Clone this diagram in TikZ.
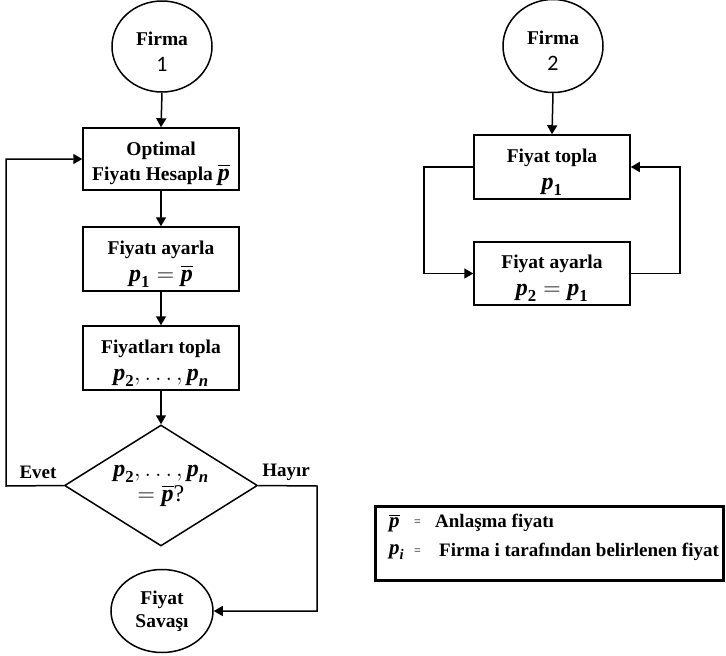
\RequirePackage{fix-cm}
\documentclass[tikz,border=0pt]{standalone}
\usepackage{amsmath}
\usepackage{fontspec}
\setmainfont{Liberation Serif}
\newfontfamily\carlito{Carlito}
\usetikzlibrary{shapes.geometric,arrows.meta}
\tikzset{
  base/.style={draw=black, line width=1.5pt, align=center, inner sep=0pt,
    font=\fontsize{19.5}{27}\selectfont\bfseries},
  procbox/.style={base, rectangle, minimum width=156, minimum height=63},
  oval/.style={base, ellipse},
  decision/.style={base, diamond, minimum width=193, minimum height=121, aspect=1.6},
  arr/.style={line width=1.5pt, -{Triangle[length=9,width=10]}},
  lbl/.style={font=\fontsize{19}{22}\selectfont\bfseries, inner sep=0pt},
  mth/.style={font=\fontsize{21}{24}\selectfont, inner sep=0pt}
}
\newcommand{\pp}{\mbox{\bfseries\itshape p}}
\newcommand{\pb}{\overline{\pp}}
\newcommand{\ps}[1]{\pp_{\text{\bfseries #1}}}
\newcommand{\mathsz}{\fontsize{24}{26}\selectfont}
\newcommand{\dig}{\fontsize{22}{24}\selectfont\carlito\mdseries}
\newcommand{\topgap}{\rule{0pt}{1.2em}}
\begin{document}
\begin{tikzpicture}[x=1pt,y=-1pt]
\useasboundingbox (0,0) rectangle (726,656);
% left chart
\node[oval, minimum width=100, minimum height=91] (f1) at (162,46.5) {\topgap Firma\\[-1pt] {\dig 1}};
\node[procbox, minimum height=62] (b1) at (161,159) {\topgap Optimal\\[-2pt] Fiyatı Hesapla {\mathsz$\pb$}};
\node[procbox, minimum height=64] (b2) at (161,259) {\topgap Fiyatı ayarla\\ {\mathsz$\ps{1}=\pb$}};
\node[procbox, minimum height=64] (b3) at (161,358) {\topgap Fiyatları topla\\ {\mathsz$\ps{2},\ldots,\ps{\itshape n}$}};
\node[decision] (d) at (161,485.5) {\rule{0pt}{0.5em}{\mathsz$\ps{2},\ldots,\ps{\itshape n}$}\\[-2pt] {\mathsz$=\pb$\mdseries ?}};
\node[oval, minimum width=102, minimum height=83] (f3) at (162,611) {Fiyat\\[-4pt] Savaşı};
\coordinate (eL) at (6,486);
\coordinate (hR) at (317,486);
\draw[arr] (f1.south) -- (b1.north);
\draw[arr] (b1.south) -- (b2.north);
\draw[arr] (b2.south) -- (b3.north);
\draw[arr] (b3.south) -- (d.north);
\draw[arr] (d.west) -- (eL) |- (b1.west);
\draw[arr] (d.east) -- (hR) |- (f3.east);
\node[lbl] (evet) at (38,472) {Evet};
\node[lbl] (hayir) at (286,472) {Hayır};
% right chart
\node[oval, minimum width=100, minimum height=93] (f2) at (553,46) {\topgap Firma\\[-1pt] {\dig 2}};
\node[procbox, minimum height=64] (c1) at (552,167) {\topgap Fiyat topla\\ {\mathsz$\ps{1}$}};
\node[procbox, minimum height=63] (c2) at (552,273.5) {\topgap Fiyat ayarla\\ {\mathsz$\ps{2}=\ps{1}$}};
\coordinate (lx) at (424,0);
\coordinate (rx) at (680,0);
\draw[arr] (f2.south) -- (c1.north);
\draw[arr] (c1.west) -- (c1.west -| lx) |- (c2.west);
\draw[arr] (c2.east) -- (c2.east -| rx) |- (c1.east);
% legend
\node[draw=black, line width=3pt, rectangle, minimum width=348, minimum height=74, inner sep=0pt] (leg) at (549.5,543.5) {};
\node[mth, anchor=west] (s1) at (389,523) {$\pb$};
\node[anchor=west, inner sep=0pt, font=\fontsize{12}{14}\selectfont] (e1) at (414,523) {=};
\node[lbl, anchor=west] (t1) at (435,523) {Anlaşma fiyatı};
\node[mth, anchor=west] (s2) at (389,552) {$\ps{\itshape i}$};
\node[anchor=west, inner sep=0pt, font=\fontsize{12}{14}\selectfont] (e2) at (414,552) {=};
\node[lbl, anchor=west] (t2) at (439,552) {Firma i tarafından belirlenen fiyat};
\end{tikzpicture}
\end{document}
